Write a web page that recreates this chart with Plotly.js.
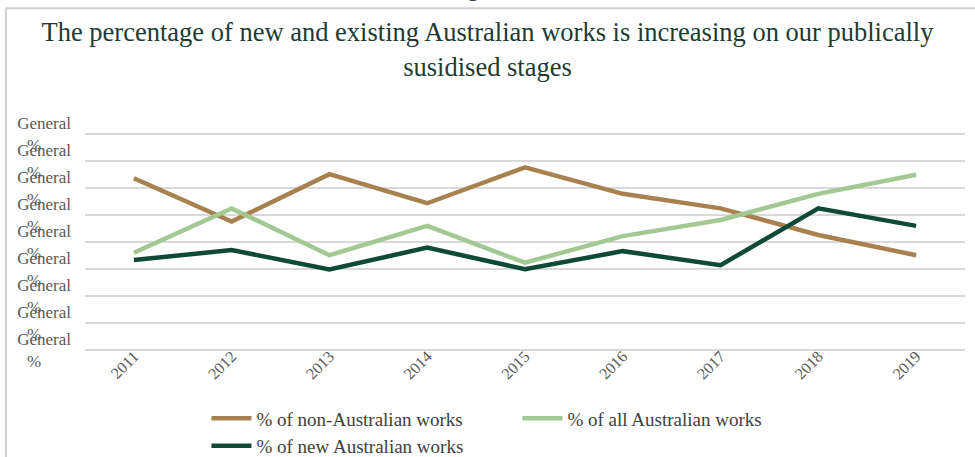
<!DOCTYPE html>
<html>
<head>
<meta charset="utf-8">
<script src="https://cdn.plot.ly/plotly-3.0.1.min.js"></script>
<style>html,body{margin:0;padding:0;background:#fff;}#chart{width:975px;height:457px;}</style>
</head>
<body>
<div id="chart"></div>
<script>
const years = ["2011","2012","2013","2014","2015","2016","2017","2018","2019"];
const nonAustralian = [63.7, 47.6, 65.2, 54.4, 67.7, 57.9, 52.5, 42.6, 35.1];
const allAustralian = [36.0, 52.5, 35.1, 46.0, 32.3, 42.2, 48.2, 57.9, 65.0];
const newAustralian = [33.3, 37.0, 29.8, 37.9, 29.9, 36.6, 31.4, 52.5, 46.0];
const seriesNames = ["% of non-Australian works", "% of all Australian works", "% of new Australian works"];
const yTickVals = [0, 10, 20, 30, 40, 50, 60, 70, 80];
const yTickText = yTickVals.map(() => "General<br>%\u00A0\u00A0\u00A0\u00A0\u00A0\u00A0\u00A0");

const serif = "'Liberation Serif', 'Times New Roman', serif";
const mk = (y, name, color) => ({
  x: years, y: y, name: name, type: "scatter", mode: "lines",
  line: {color: color, width: 4.5}, hoverinfo: "skip"
});

const data = [
  mk(nonAustralian, seriesNames[0], "#a7824f"),
  mk(allAustralian, seriesNames[1], "#a2c893"),
  mk(newAustralian, seriesNames[2], "#0f4a38")
];

const layout = {
  width: 975, height: 457,
  paper_bgcolor: "#ffffff", plot_bgcolor: "#ffffff",
  margin: {l: 85, r: 10, t: 133, b: 106, autoexpand: false},
  title: {
    text: "The percentage of new and existing Australian works is increasing on our publically<br>susidised stages",
    font: {family: serif, size: 26.5, color: "#1d3b34"},
    x: 0.5, xanchor: "center", y: 0.91, yanchor: "top"
  },
  xaxis: {
    type: "category", range: [-0.5, 8.5],
    showgrid: false, zeroline: false, showline: false,
    tickangle: -45, tickfont: {family: serif, size: 16, color: "#595959"},
    ticks: "", ticklabelstandoff: -8
  },
  yaxis: {
    range: [-0.5, 80.5], tickvals: yTickVals, ticktext: yTickText,
    showgrid: true, gridcolor: "#d9d9d9", gridwidth: 2,
    zeroline: false, showline: false, ticks: "",
    tickfont: {family: serif, size: 17, color: "#595959"},
    ticklabelstandoff: 13
  },
  showlegend: true,
  legend: {
    orientation: "h", x: 0.138, xanchor: "left", y: -0.2216, yanchor: "top",
    font: {family: serif, size: 19, color: "#404040"},
    entrywidth: 256, tracegroupgap: 0, itemwidth: 40,
    bgcolor: "rgba(0,0,0,0)"
  },
  shapes: [
    {type: "line", xref: "paper", yref: "paper", x0: -0.0898, x1: 1.02, y0: 1.572, y1: 1.572, line: {color: "#d0d0d0", width: 2}},
    {type: "line", xref: "paper", yref: "paper", x0: -0.0898, x1: -0.0898, y0: 1.572, y1: -0.52, line: {color: "#d0d0d0", width: 2}}
  ],
  annotations: [
    {text: "Figure 2", xref: "paper", yref: "paper", x: 0.457, y: 1.665, xanchor: "center", yanchor: "middle", showarrow: false, font: {family: serif, size: 24, color: "#3a3a3a"}}
  ]
};

Plotly.newPlot("chart", data, layout, {displayModeBar: false, staticPlot: true});
</script>
</body>
</html>
